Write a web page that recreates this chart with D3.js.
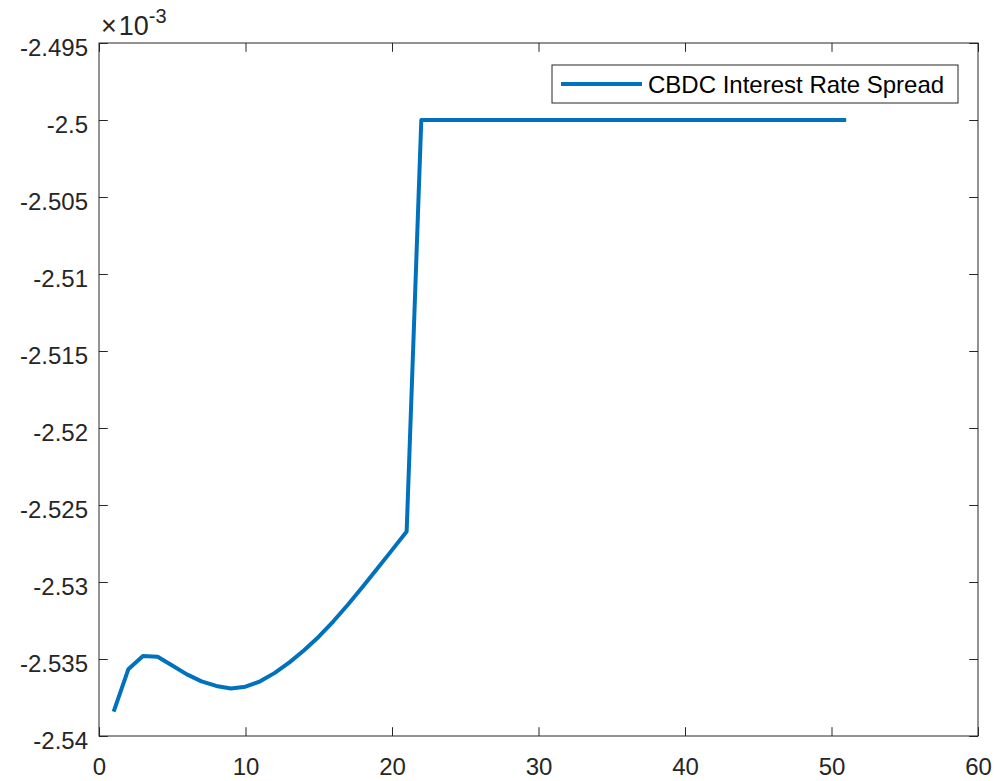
<!DOCTYPE html>
<html>
<head>
<meta charset="utf-8">
<script src="https://cdn.jsdelivr.net/npm/d3@7"></script>
<style>
  body { margin: 0; background: #fff; }
  svg { display: block; font-family: "Liberation Sans", Arial, sans-serif; }
</style>
</head>
<body>
<div id="chart"></div>
<script>
// periods
const periods = d3.range(1, 52);
// spread values, in units of 1e-3
const spread = [
  -2.53842, -2.53567, -2.53481, -2.53485, -2.53542, -2.53600, -2.53645, -2.53675, -2.53692, -2.53680,
  -2.53645, -2.53590, -2.53522, -2.53443, -2.53355, -2.53255, -2.53146, -2.53031, -2.52913, -2.52793,
  -2.52672,
  -2.5, -2.5, -2.5, -2.5, -2.5, -2.5, -2.5, -2.5, -2.5, -2.5,
  -2.5, -2.5, -2.5, -2.5, -2.5, -2.5, -2.5, -2.5, -2.5, -2.5,
  -2.5, -2.5, -2.5, -2.5, -2.5, -2.5, -2.5, -2.5, -2.5, -2.5
];
const xTicks = [0, 10, 20, 30, 40, 50, 60];
const yTicks = [-2.54, -2.535, -2.53, -2.525, -2.52, -2.515, -2.51, -2.505, -2.5, -2.495];
const seriesName = "CBDC Interest Rate Spread";

function drawChart() {
  const width = 998, height = 781;
  const margin = { left: 99, right: 20, top: 43, bottom: 45 };
  const axisColor = "#262626";
  const lineColor = "#0072BD";

  const svg = d3.select("#chart").append("svg")
    .attr("width", width)
    .attr("height", height);

  const x = d3.scaleLinear().domain([0, 60]).range([margin.left, width - margin.right]);
  const y = d3.scaleLinear().domain([-2.54, -2.495]).range([height - margin.bottom, margin.top]);

  const tickLen = 8.8;
  const fmt = d => String(+d.toFixed(3));

  // bottom axis, ticks pointing in
  svg.append("g")
    .attr("transform", `translate(0,${y.range()[0]})`)
    .call(d3.axisBottom(x).tickValues(xTicks).tickSizeInner(-tickLen).tickSizeOuter(0).tickPadding(22).tickFormat(fmt))
    .call(g => g.select(".domain").remove());
  // top ticks
  svg.append("g")
    .attr("transform", `translate(0,${y.range()[1]})`)
    .call(d3.axisTop(x).tickValues(xTicks).tickSizeInner(-tickLen).tickSizeOuter(0).tickFormat(""))
    .call(g => g.select(".domain").remove());
  // left axis
  svg.append("g")
    .attr("class", "yaxis")
    .attr("transform", `translate(${x.range()[0]},0)`)
    .call(d3.axisLeft(y).tickValues(yTicks).tickSizeInner(-tickLen).tickSizeOuter(0).tickPadding(11).tickFormat(fmt))
    .call(g => g.select(".domain").remove());
  // right ticks
  svg.append("g")
    .attr("transform", `translate(${x.range()[1]},0)`)
    .call(d3.axisRight(y).tickValues(yTicks).tickSizeInner(-tickLen).tickSizeOuter(0).tickFormat(""))
    .call(g => g.select(".domain").remove());

  svg.selectAll(".tick line").attr("stroke", axisColor).attr("stroke-width", 1);
  svg.selectAll(".tick text")
    .attr("fill", axisColor)
    .attr("font-size", "24px")
    .attr("font-family", "Liberation Sans, Arial, sans-serif");
  svg.selectAll(".yaxis .tick text").attr("dy", "0.5em");

  // axes box
  svg.append("rect")
    .attr("x", x.range()[0])
    .attr("y", y.range()[1])
    .attr("width", x.range()[1] - x.range()[0])
    .attr("height", y.range()[0] - y.range()[1])
    .attr("fill", "none")
    .attr("stroke", axisColor)
    .attr("stroke-width", 1);

  // exponent label
  const expo = svg.append("text")
    .attr("x", x.range()[0] + 2)
    .attr("y", 35)
    .attr("fill", axisColor)
    .attr("font-size", "27px");
  expo.append("tspan").text("\u00d7");
  expo.append("tspan").attr("dx", 2).text("10");
  expo.append("tspan").attr("dy", -12).attr("font-size", "20px").text("-3");

  // the line
  const line = d3.line()
    .x((d, i) => x(periods[i]))
    .y(d => y(d));

  svg.append("path")
    .datum(spread)
    .attr("fill", "none")
    .attr("stroke", lineColor)
    .attr("stroke-width", 4)
    .attr("stroke-linejoin", "round")
    .attr("d", line);

  // legend
  const legend = svg.append("g").attr("transform", "translate(552,65)");
  legend.append("rect")
    .attr("width", 406)
    .attr("height", 38)
    .attr("fill", "#fff")
    .attr("stroke", axisColor)
    .attr("stroke-width", 1);
  legend.append("line")
    .attr("x1", 9).attr("x2", 90)
    .attr("y1", 19).attr("y2", 19)
    .attr("stroke", lineColor)
    .attr("stroke-width", 4);
  legend.append("text")
    .attr("x", 96)
    .attr("y", 28)
    .attr("fill", "#000")
    .attr("font-size", "24px")
    .text(seriesName);
}

document.addEventListener('DOMContentLoaded', drawChart);
</script>
</body>
</html>
